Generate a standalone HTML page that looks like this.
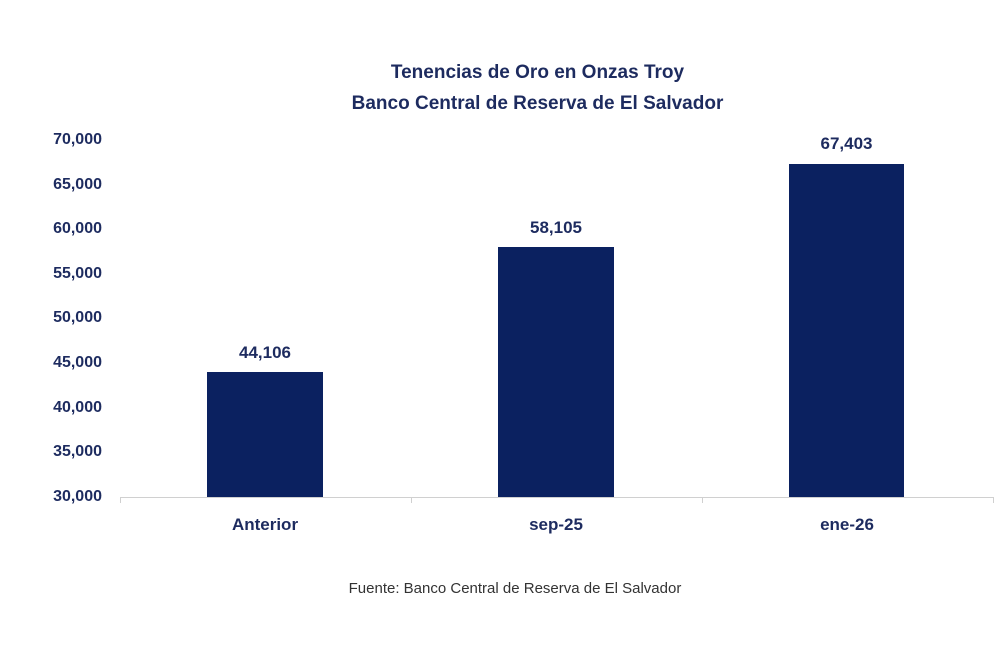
<!DOCTYPE html>
<html><head><meta charset="utf-8"><style>
html,body{margin:0;padding:0;background:#fff}
body{width:1000px;height:650px;position:relative;overflow:hidden;font-family:"Liberation Sans",sans-serif}
.t{position:absolute;color:#1d2b5f;font-weight:bold}
.y{position:absolute;right:898px;font-size:16px;color:#1d2b5f;font-weight:bold;text-align:right}
.bar{position:absolute;background:#0b2160}
</style></head><body>
<div class="t" style="left:0;width:1075px;text-align:center;top:62px;font-size:19px">Tenencias de Oro en Onzas Troy</div>
<div class="t" style="left:0;width:1075px;text-align:center;top:93px;font-size:19px">Banco Central de Reserva de El Salvador</div>
<div class="y" style="top:131px">70,000</div>
<div class="y" style="top:176px">65,000</div>
<div class="y" style="top:220px">60,000</div>
<div class="y" style="top:265px">55,000</div>
<div class="y" style="top:309px">50,000</div>
<div class="y" style="top:354px">45,000</div>
<div class="y" style="top:399px">40,000</div>
<div class="y" style="top:443px">35,000</div>
<div class="y" style="top:488px">30,000</div>
<div style="position:absolute;left:120px;top:497px;width:873px;height:1px;background:#d0d0d0"></div>
<div style="position:absolute;left:120px;top:497px;width:1px;height:6px;background:#d0d0d0"></div>
<div style="position:absolute;left:411px;top:497px;width:1px;height:6px;background:#d0d0d0"></div>
<div style="position:absolute;left:702px;top:497px;width:1px;height:6px;background:#d0d0d0"></div>
<div style="position:absolute;left:993px;top:497px;width:1px;height:6px;background:#d0d0d0"></div>
<div class="bar" style="left:207px;top:372px;width:116px;height:125px"></div>
<div class="bar" style="left:498px;top:247px;width:116px;height:250px"></div>
<div class="bar" style="left:789px;top:164px;width:115px;height:333px"></div>
<div class="t" style="left:207px;width:116px;text-align:center;top:343px;font-size:17px">44,106</div>
<div class="t" style="left:498px;width:116px;text-align:center;top:218px;font-size:17px">58,105</div>
<div class="t" style="left:789px;width:115px;text-align:center;top:134px;font-size:17px">67,403</div>
<div class="t" style="left:165px;width:200px;text-align:center;top:515px;font-size:17px">Anterior</div>
<div class="t" style="left:456px;width:200px;text-align:center;top:515px;font-size:17px">sep-25</div>
<div class="t" style="left:747px;width:200px;text-align:center;top:515px;font-size:17px">ene-26</div>
<div style="position:absolute;left:0;width:1030px;text-align:center;top:580px;font-size:15px;color:#333">Fuente: Banco Central de Reserva de El Salvador</div>
</body></html>
